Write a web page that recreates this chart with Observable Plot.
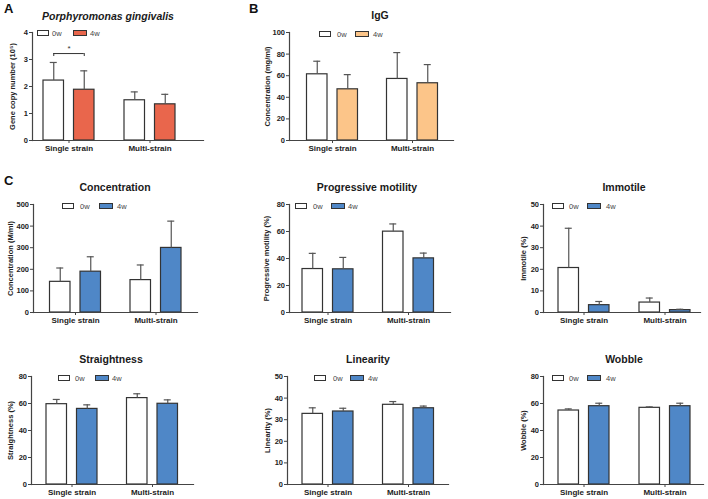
<!DOCTYPE html>
<html>
<head>
<meta charset="utf-8">
<script src="https://cdn.jsdelivr.net/npm/d3@7"></script>
<script src="https://cdn.jsdelivr.net/npm/@observablehq/plot@0.6"></script>
<style>
  body { margin: 0; background: #fff; }
  #fig { position: relative; width: 708px; height: 499px; overflow: hidden; background: #fff;
         font-family: "Liberation Sans", Arial, Helvetica, sans-serif; color: #222; }
  #fig svg { position: absolute; overflow: visible; }
  .ttl { position: absolute; transform: translate(-50%, -50%); font-weight: bold; font-size: 10.5px; white-space: nowrap; color: #1a1a1a; }
  .letter { position: absolute; font-weight: bold; font-size: 13px; color: #111; }
  .lgbox { position: absolute; height: 4px; border: 1px solid #333; }
  .lgtxt { position: absolute; font-size: 7.5px; color: #444; transform: translateY(-50%); }
</style>
</head>
<body>
<div id="fig"></div>
<script>
// ---------- data ----------
const strains = ["Single strain", "Multi-strain"];
const weeks = ["0w", "4w"];

// A: Porphyromonas gingivalis, gene copy number (10^5)
const pgMean0w = [2.22, 1.49];
const pgSd0w   = [0.67, 0.31];
const pgMean4w = [1.88, 1.34];
const pgSd4w   = [0.70, 0.37];
const pgTicks  = [0, 1, 2, 3, 4];
const pgSigStrain = ["Single strain"];
const pgSigLevel  = [3.22];
const pgSigLabel  = ["*"];

// B: IgG (mg/ml)
const iggMean0w = [61.3, 57.0];
const iggSd0w   = [12.1, 24.4];
const iggMean4w = [47.4, 53.0];
const iggSd4w   = [13.6, 17.3];
const iggTicks  = [0, 20, 40, 60, 80, 100];

// C: sperm concentration (M/ml)
const concMean0w = [142, 150];
const concSd0w   = [64, 70];
const concMean4w = [189, 299];
const concSd4w   = [69, 124];
const concTicks  = [0, 100, 200, 300, 400, 500];

// Progressive motility (%)
const progMean0w = [32.2, 59.9];
const progSd0w   = [11.6, 5.7];
const progMean4w = [32.0, 40.1];
const progSd4w   = [8.8, 3.9];
const progTicks  = [0, 20, 40, 60, 80];

// Immotile (%)
const immMean0w = [20.6, 4.6];
const immSd0w   = [18.4, 2.1];
const immMean4w = [3.4, 1.1];
const immSd4w   = [1.7, 0.4];
const immTicks  = [0, 10, 20, 30, 40, 50];

// Straightness (%)
const strMean0w = [59.5, 64.0];
const strSd0w   = [3.5, 3.2];
const strMean4w = [56.0, 59.8];
const strSd4w   = [3.0, 2.9];
const strTicks  = [0, 20, 40, 60, 80];

// Linearity (%)
const linMean0w = [32.7, 36.9];
const linSd0w   = [2.8, 1.5];
const linMean4w = [33.8, 35.3];
const linSd4w   = [1.5, 1.0];
const linTicks  = [0, 10, 20, 30, 40, 50];

// Wobble (%)
const wobMean0w = [54.8, 56.8];
const wobSd0w   = [1.2, 0.7];
const wobMean4w = [58.0, 58.0];
const wobSd4w   = [2.2, 2.2];
const wobTicks  = [0, 20, 40, 60, 80];

// ---------- layout / style ----------
const RED = "#E9664C", PEACH = "#FCC589", BLUE = "#4F87C7";
const FONT = '"Liberation Sans", Arial, Helvetica, sans-serif';
const BAR_SPAN = 51;        // width of a strain group (two bars + gap)
const BAR_W = 20.5;

const panels = [
  {L: 32, R: 203, T: 32, B: 140, c1: 68.5, step: 81, ticks: pgTicks, ylab: "Gene copy number (10⁵)",
   title: "Porphyromonas gingivalis", italic: true, tx: 108, ty: 16, color: RED,
   m0: pgMean0w, s0: pgSd0w, m4: pgMean4w, s4: pgSd4w, lg: [37, 52, 73, 90, 33], sig: true, lo: 23},
  {L: 289, R: 453, T: 32, B: 140, c1: 332, step: 80, ticks: iggTicks, ylab: "Concentration (mg/ml)",
   title: "IgG", tx: 380, ty: 15, color: PEACH,
   m0: iggMean0w, s0: iggSd0w, m4: iggMean4w, s4: iggSd4w, lg: [319, 337, 355, 373, 34], lo: 25},
  {L: 33, R: 197, T: 204, B: 312, c1: 75, step: 80.5, ticks: concTicks, ylab: "Concentration (M/ml)",
   title: "Concentration", tx: 115, ty: 187, color: BLUE,
   m0: concMean0w, s0: concSd0w, m4: concMean4w, s4: concSd4w, lg: [62, 80, 99, 117, 206], lo: 26},
  {L: 289, R: 450, T: 204, B: 312, c1: 327.5, step: 80.5, ticks: progTicks, ylab: "Progressive motility (%)",
   title: "Progressive motility", tx: 367, ty: 187, color: BLUE,
   m0: progMean0w, s0: progSd0w, m4: progMean4w, s4: progSd4w, lg: [295, 313, 331, 348, 206], lo: 26},
  {L: 543, R: 700, T: 204, B: 312, c1: 583.5, step: 81, ticks: immTicks, ylab: "Immotile (%)",
   title: "Immotile", tx: 624, ty: 187, color: BLUE,
   m0: immMean0w, s0: immSd0w, m4: immMean4w, s4: immSd4w, lg: [552, 569, 587, 606, 206], lo: 23},
  {L: 31, R: 193, T: 376, B: 484, c1: 71.5, step: 80.5, ticks: strTicks, ylab: "Straightness (%)",
   title: "Straightness", tx: 111, ty: 359, color: BLUE,
   m0: strMean0w, s0: strSd0w, m4: strMean4w, s4: strSd4w, lg: [58, 75, 95, 112, 378], lo: 24},
  {L: 287, R: 448, T: 376, B: 484, c1: 327.5, step: 80.5, ticks: linTicks, ylab: "Linearity (%)",
   title: "Linearity", tx: 368, ty: 359, color: BLUE,
   m0: linMean0w, s0: linSd0w, m4: linMean4w, s4: linSd4w, lg: [314, 333, 350, 368, 378], lo: 23},
  {L: 543, R: 703, T: 376, B: 484, c1: 583.5, step: 81, ticks: wobTicks, ylab: "Wobble (%)",
   title: "Wobble", tx: 624, ty: 359, color: BLUE,
   m0: wobMean0w, s0: wobSd0w, m4: wobMean4w, s4: wobSd4w, lg: [552, 569, 587, 606, 378], lo: 23}
];

const fig = document.getElementById("fig");

function addDiv(cls, css, text) {
  const d = document.createElement("div");
  d.className = cls;
  Object.assign(d.style, css);
  if (text != null) d.textContent = text;
  fig.appendChild(d);
  return d;
}

function makePanel(p) {
  const W = p.R - p.L, H = p.B - p.T;
  const O = W - p.step - BAR_SPAN;
  const lead = p.c1 - BAR_SPAN / 2 - p.L;
  const mL = 40, mR = 6, mT = 8, mB = 24;
  const rows = strains.map((s, i) => ({strain: s, m0: p.m0[i], s0: p.s0[i], m4: p.m4[i], s4: p.s4[i]}));
  const off = BAR_SPAN / 2 - BAR_W / 2;             // bar centre offset from group centre
  const capIn1 = BAR_W / 2 - 3.5, capIn2 = BAR_SPAN - BAR_W / 2 - 3.5;
  const ymax = p.ticks[p.ticks.length - 1];
  const marks = [
    Plot.barY(rows, {x: "strain", y: "m0", fill: "white", stroke: "#333", strokeWidth: 1.2, insetRight: BAR_SPAN - BAR_W}),
    Plot.barY(rows, {x: "strain", y: "m4", fill: p.color, stroke: "#333", strokeWidth: 1.2, insetLeft: BAR_SPAN - BAR_W}),
    Plot.ruleX(rows, {x: "strain", y1: "m0", y2: d => d.m0 + d.s0, dx: -off, stroke: "#555", strokeWidth: 1.2}),
    Plot.ruleX(rows, {x: "strain", y1: "m4", y2: d => d.m4 + d.s4, dx: off, stroke: "#555", strokeWidth: 1.2}),
    Plot.tickY(rows, {x: "strain", y: d => d.m0 + d.s0, insetLeft: capIn1, insetRight: capIn2, stroke: "#555", strokeWidth: 1.2}),
    Plot.tickY(rows, {x: "strain", y: d => d.m4 + d.s4, insetLeft: capIn2, insetRight: capIn1, stroke: "#555", strokeWidth: 1.2}),
    Plot.axisY({ticks: p.ticks, tickFormat: d => String(d), tickSize: 3, tickPadding: 1.5, fontSize: 7.5, fontWeight: "bold", stroke: "#444",
                label: p.ylab, labelAnchor: "center", labelArrow: "none", labelOffset: p.lo}),
    Plot.axisX({tickSize: 3, tickPadding: 1.5, fontSize: 8, fontWeight: "bold", stroke: "#444", label: null}),
    Plot.frame({anchor: "left", stroke: "#444", strokeWidth: 1.2}),
    Plot.frame({anchor: "bottom", stroke: "#444", strokeWidth: 1.2})
  ];
  if (p.sig) {
    const sig = pgSigStrain.map((s, i) => ({strain: s, y: pgSigLevel[i], label: pgSigLabel[i]}));
    const drop = 0.11;
    marks.push(
      Plot.tickY(sig, {x: "strain", y: "y", insetLeft: BAR_W / 2, insetRight: BAR_W / 2, stroke: "#333", strokeWidth: 1}),
      Plot.ruleX(sig, {x: "strain", y1: d => d.y - drop, y2: "y", dx: -off, stroke: "#333", strokeWidth: 1}),
      Plot.ruleX(sig, {x: "strain", y1: d => d.y - drop, y2: "y", dx: off, stroke: "#333", strokeWidth: 1}),
      Plot.text(sig, {x: "strain", y: "y", text: "label", dy: -5, fontSize: 8, fill: "#333"})
    );
  }
  const svg = Plot.plot({
    width: W + mL + mR, height: H + mT + mB,
    marginLeft: mL, marginRight: mR, marginTop: mT, marginBottom: mB,
    style: {fontFamily: FONT, background: "transparent", color: "#222", overflow: "visible"},
    x: {type: "band", domain: strains, paddingInner: 1 - BAR_SPAN / p.step, paddingOuter: O / (2 * p.step),
        align: lead / O, round: false, axis: null},
    y: {domain: [0, ymax], axis: null},
    marks
  });
  svg.style.left = (p.L - mL) + "px";
  svg.style.top = (p.T - mT) + "px";
  fig.appendChild(svg);

  // title
  addDiv("ttl", {left: p.tx + "px", top: p.ty + "px", fontStyle: p.italic ? "italic" : "normal"}, p.title);
  // legend
  const [b0, t0, b4, t4, ly] = p.lg;
  addDiv("lgbox", {left: b0 + "px", top: (ly - 3) + "px", width: "10px", background: "#fff"});
  addDiv("lgtxt", {left: t0 + "px", top: ly + "px"}, weeks[0]);
  addDiv("lgbox", {left: b4 + "px", top: (ly - 3) + "px", width: "12px", background: p.color});
  addDiv("lgtxt", {left: t4 + "px", top: ly + "px"}, weeks[1]);
}

panels.forEach(makePanel);

addDiv("letter", {left: "4px", top: "1px"}, "A");
addDiv("letter", {left: "249px", top: "1px"}, "B");
addDiv("letter", {left: "4px", top: "173px"}, "C");
</script>
</body>
</html>
